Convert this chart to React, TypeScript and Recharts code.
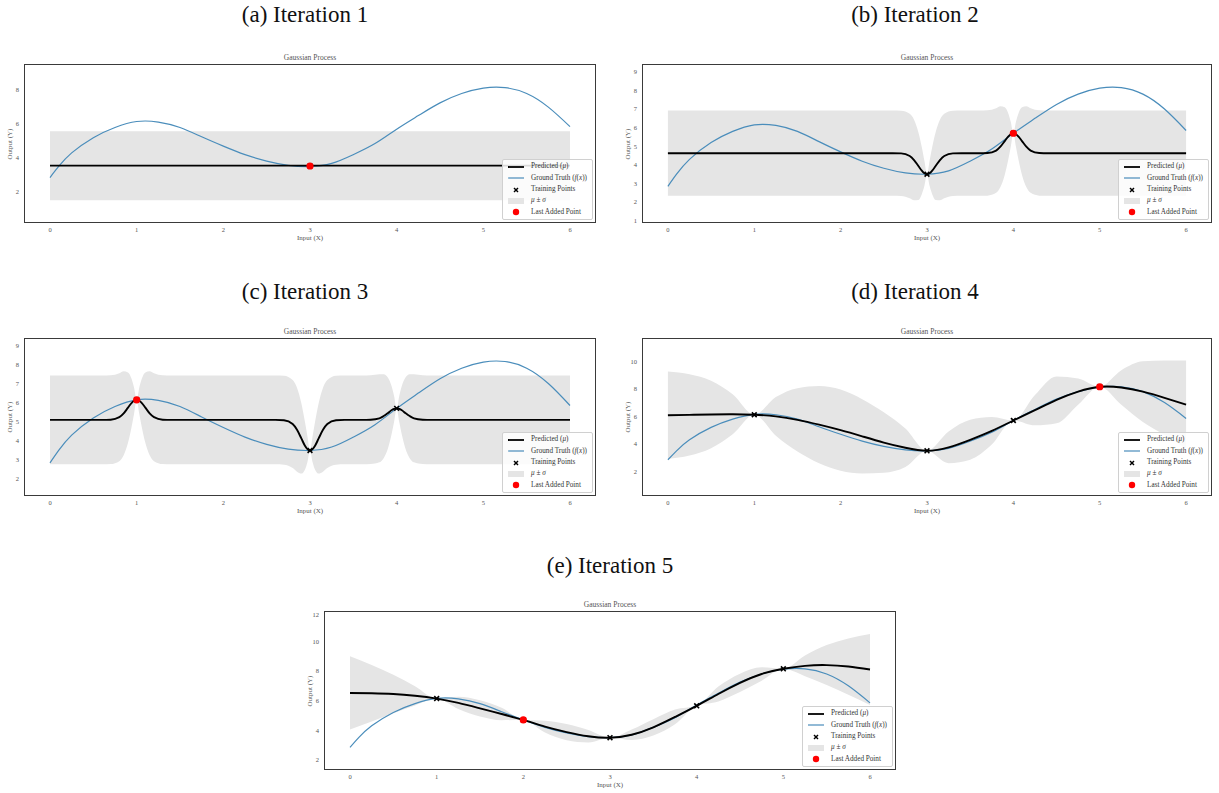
import React from 'react'
import { ComposedChart, Area, Line, Scatter, XAxis, YAxis } from 'recharts'

// ground truth f(x), shared by every panel
const GT_X = [0, 0.1, 0.25, 0.5, 0.75, 1, 1.25, 1.5, 1.75, 2, 2.25, 2.5, 2.75, 3, 3.25, 3.5, 3.75, 4, 4.25, 4.5, 4.75, 5, 5.25, 5.5, 5.75, 6]
const GT_Y = [2.85, 3.5, 4.3, 5.2, 5.8, 6.15, 6.12, 5.8, 5.25, 4.7, 4.2, 3.82, 3.57, 3.5, 3.68, 4.2, 4.85, 5.7, 6.5, 7.25, 7.8, 8.12, 8.15, 7.8, 7.0, 5.85]

const X_TICKS = [0, 1, 2, 3, 4, 5, 6]

// (a) iteration 1
const A_X = [0, 6]
const A_MU = [3.55, 3.55]
const A_LO = [1.51, 1.51]
const A_HI = [5.58, 5.58]
const A_TRAIN_X = [3]
const A_TRAIN_Y = [3.53]
const A_LAST = [3, 3.53]
const A_YTICKS = [2, 4, 6, 8]

// (b) iteration 2
const B_X = [0, 2.6, 2.7, 2.8, 2.85, 2.9, 2.94, 2.97, 3, 3.03, 3.06, 3.1, 3.15, 3.2, 3.3, 3.4, 3.6, 3.7, 3.8, 3.85, 3.9, 3.94, 3.97, 4, 4.03, 4.06, 4.1, 4.15, 4.2, 4.3, 4.4, 6]
const B_MU = [4.63, 4.63, 4.62, 4.48, 4.26, 3.94, 3.69, 3.55, 3.5, 3.55, 3.69, 3.94, 4.26, 4.48, 4.62, 4.63, 4.63, 4.64, 4.77, 4.98, 5.28, 5.52, 5.65, 5.7, 5.65, 5.52, 5.28, 4.98, 4.77, 4.64, 4.63, 4.63]
const B_HI = [6.92, 6.92, 6.91, 6.75, 6.43, 5.76, 4.95, 4.22, 3.5, 4.22, 4.95, 5.76, 6.43, 6.75, 6.91, 6.92, 6.92, 6.93, 7.04, 7.15, 7.1, 6.78, 6.32, 5.7, 6.32, 6.78, 7.1, 7.15, 7.04, 6.93, 6.92, 6.92]
const B_LO = [2.34, 2.34, 2.33, 2.21, 2.1, 2.12, 2.43, 2.88, 3.5, 2.88, 2.43, 2.12, 2.1, 2.21, 2.33, 2.34, 2.34, 2.35, 2.5, 2.81, 3.46, 4.26, 4.98, 5.7, 4.98, 4.26, 3.46, 2.81, 2.5, 2.35, 2.34, 2.34]
const B_TRAIN_X = [3, 4]
const B_TRAIN_Y = [3.5, 5.7]
const B_LAST = [4, 5.7]
const B_YTICKS = [1, 2, 3, 4, 5, 6, 7, 8, 9]

// (c) iteration 3
const C_X = [0, 0.6, 0.7, 0.8, 0.85, 0.9, 0.94, 0.97, 1, 1.03, 1.06, 1.1, 1.15, 1.2, 1.3, 1.4, 2.6, 2.7, 2.8, 2.85, 2.9, 2.94, 2.97, 3, 3.03, 3.06, 3.1, 3.15, 3.2, 3.3, 3.4, 3.6, 3.7, 3.8, 3.85, 3.9, 3.94, 3.97, 4, 4.03, 4.06, 4.1, 4.15, 4.2, 4.3, 4.4, 6]
const C_MU = [5.1,
  5.1, 5.11, 5.24, 5.44, 5.74, 5.98, 6.1, 6.15, 6.1, 5.98, 5.74, 5.44, 5.24, 5.11, 5.1,
  5.1, 5.08, 4.88, 4.58, 4.13, 3.76, 3.57, 3.5, 3.57, 3.76, 4.13, 4.58, 4.88, 5.08, 5.1,
  5.1, 5.11, 5.18, 5.3, 5.46, 5.6, 5.67, 5.7, 5.67, 5.6, 5.46, 5.3, 5.18, 5.11, 5.1,
  5.1]
const C_HI = [7.42,
  7.42, 7.43, 7.54, 7.64, 7.58, 7.26, 6.78, 6.15, 6.78, 7.26, 7.58, 7.64, 7.54, 7.43, 7.42,
  7.42, 7.4, 7.18, 6.78, 5.97, 5.04, 4.25, 3.5, 4.25, 5.04, 5.97, 6.78, 7.18, 7.4, 7.42,
  7.42, 7.43, 7.48, 7.49, 7.3, 6.88, 6.35, 5.7, 6.35, 6.88, 7.3, 7.49, 7.48, 7.43, 7.42,
  7.42]
const C_LO = [2.78,
  2.78, 2.79, 2.94, 3.25, 3.9, 4.7, 5.42, 6.15, 5.42, 4.7, 3.9, 3.25, 2.94, 2.79, 2.78,
  2.78, 2.76, 2.58, 2.39, 2.29, 2.48, 2.89, 3.5, 2.89, 2.48, 2.29, 2.39, 2.58, 2.76, 2.78,
  2.78, 2.79, 2.88, 3.1, 3.62, 4.32, 4.99, 5.7, 4.99, 4.32, 3.62, 3.1, 2.88, 2.79, 2.78,
  2.78]
const C_TRAIN_X = [1, 3, 4]
const C_TRAIN_Y = [6.15, 3.5, 5.7]
const C_LAST = [1, 6.15]
const C_YTICKS = [2, 3, 4, 5, 6, 7, 8, 9]

// (d) iteration 4
const D_X = [0, 0.25, 0.5, 0.75, 1, 1.25, 1.5, 1.75, 2, 2.25, 2.5, 2.75, 3, 3.25, 3.5, 3.75, 4, 4.25, 4.5, 4.75, 5, 5.25, 5.5, 5.75, 6]
const D_MU = [6.08, 6.11, 6.14, 6.15, 6.12, 6.0, 5.75, 5.4, 5.0, 4.55, 4.1, 3.72, 3.5, 3.75, 4.3, 4.95, 5.7, 6.45, 7.2, 7.8, 8.15, 8.1, 7.8, 7.35, 6.85]
const D_HI = [9.25, 9.06, 8.59, 7.6, 6.12, 7.4, 8.05, 8.2, 7.95, 7.25, 6.3, 5.12, 3.5, 4.9, 5.75, 5.95, 5.7, 7.55, 8.9, 8.75, 8.15, 9.35, 10.0, 10.05, 10.05]
const D_LO = [2.91, 3.16, 3.69, 4.7, 6.12, 4.6, 3.45, 2.6, 2.05, 1.85, 1.9, 2.32, 3.5, 2.6, 2.85, 3.95, 5.7, 5.35, 5.5, 6.85, 8.15, 6.85, 5.6, 4.65, 3.65]
const D_TRAIN_X = [1, 3, 4, 5]
const D_TRAIN_Y = [6.12, 3.5, 5.7, 8.15]
const D_LAST = [5, 8.15]
const D_YTICKS = [2, 4, 6, 8, 10]

// (e) iteration 5
const E_X = [0, 0.25, 0.5, 0.75, 1, 1.25, 1.5, 1.75, 2, 2.25, 2.5, 2.75, 3, 3.25, 3.5, 3.75, 4, 4.25, 4.5, 4.75, 5, 5.25, 5.5, 5.75, 6]
const E_MU = [6.52, 6.5, 6.45, 6.33, 6.14, 5.85, 5.48, 5.1, 4.7, 4.25, 3.88, 3.6, 3.5, 3.7, 4.2, 4.9, 5.65, 6.45, 7.2, 7.8, 8.15, 8.35, 8.4, 8.3, 8.1]
const E_HI = [8.99, 8.4, 7.75, 6.98, 6.14, 6.27, 6.03, 5.52, 4.7, 4.65, 4.43, 4.02, 3.5, 4.05, 4.75, 5.4, 5.65, 6.95, 7.82, 8.25, 8.15, 9.05, 9.75, 10.2, 10.5]
const E_LO = [4.05, 4.6, 5.15, 5.68, 6.14, 5.43, 4.93, 4.68, 4.7, 3.85, 3.33, 3.18, 3.5, 3.35, 3.65, 4.4, 5.65, 5.95, 6.58, 7.35, 8.15, 7.65, 7.05, 6.4, 5.7]
const E_TRAIN_X = [1, 2, 3, 4, 5]
const E_TRAIN_Y = [6.14, 4.7, 3.5, 5.65, 8.15]
const E_LAST = [2, 4.7]
const E_YTICKS = [2, 4, 6, 8, 10, 12]

const SERIF = '"Liberation Serif", "DejaVu Serif", serif'
const GT_COLOR = '#4a8dbb'
const BAND_COLOR = '#e5e5e5'
const LABEL_COLOR = '#555'

const rows = (xs: number[], mu: number[], lo: number[], hi: number[]) =>
  xs.map((x, i) => ({ x, mu: mu[i], band: [lo[i], hi[i]] }))
const pts = (xs: number[], ys: number[]) => xs.map((x, i) => ({ x, y: ys[i] }))

const gtRows = GT_X.map((x, i) => ({ x, gt: GT_Y[i] }))

const XMark = (props: any) => {
  const { cx, cy } = props
  const r = 2.4
  return (
    <g>
      <line x1={cx - r} y1={cy - r} x2={cx + r} y2={cy + r} stroke="#000" strokeWidth={1.6} />
      <line x1={cx - r} y1={cy + r} x2={cx + r} y2={cy - r} stroke="#000" strokeWidth={1.6} />
    </g>
  )
}

const RedDot = (props: any) => <circle cx={props.cx} cy={props.cy} r={3.6} fill="#ff0000" />

const LegendBox = () => {
  const item = (icon: React.ReactNode, label: React.ReactNode) => (
    <div style={{ display: 'flex', alignItems: 'center', height: 11.4 }}>
      <svg width={22} height={10} style={{ flex: 'none' }}>{icon}</svg>
      <span style={{ marginLeft: 4, whiteSpace: 'nowrap' }}>{label}</span>
    </div>
  )
  return (
    <div style={{
      position: 'absolute', right: 2, bottom: 2, padding: '1px 5px 1px 2px',
      background: 'rgba(255,255,255,0.85)', border: '1px solid #d0d0d0', borderRadius: 2,
      fontFamily: SERIF, fontSize: 7.2, color: '#333', lineHeight: 1,
    }}>
      {item(<line x1={3} y1={5} x2={19} y2={5} stroke="#000" strokeWidth={1.8} />, <>Predicted (<i>μ</i>)</>)}
      {item(<line x1={3} y1={5} x2={19} y2={5} stroke={GT_COLOR} strokeWidth={1.2} />, <>Ground Truth (<i>f</i>(<i>x</i>))</>)}
      {item(<g><line x1={9} y1={3} x2={13} y2={7} stroke="#000" strokeWidth={1.5} /><line x1={9} y1={7} x2={13} y2={3} stroke="#000" strokeWidth={1.5} /></g>, 'Training Points')}
      {item(<rect x={3} y={2} width={16} height={6} fill={BAND_COLOR} />, <><i>μ</i> ± <i>σ</i></>)}
      {item(<circle cx={11} cy={5} r={3.2} fill="#ff0000" />, 'Last Added Point')}
    </div>
  )
}

type PanelProps = {
  caption: string
  captionX: number
  captionY: number
  left: number
  top: number
  width: number
  height: number
  yDomain: [number, number]
  yTicks: number[]
  data: any[]
  train: any[]
  last: any[]
  smooth?: boolean
}

const AXIS_W = 30
const AXIS_H = 14

const Panel = (p: PanelProps) => (
  <>
    <div style={{
      position: 'absolute', left: p.captionX - 150, top: p.captionY - 14, width: 300,
      textAlign: 'center', fontFamily: SERIF, fontSize: 23, color: '#111', lineHeight: '28px',
    }}>{p.caption}</div>
    <div style={{
      position: 'absolute', left: p.left, top: p.top - 11, width: p.width, textAlign: 'center',
      fontFamily: SERIF, fontSize: 7.5, color: LABEL_COLOR, lineHeight: '9px',
    }}>Gaussian Process</div>
    <div style={{ position: 'absolute', left: p.left - AXIS_W, top: p.top }}>
      <ComposedChart width={p.width + AXIS_W} height={p.height + AXIS_H} margin={{ top: 0, right: 0, bottom: 0, left: 0 }}>
        <XAxis
          type="number" dataKey="x" domain={[-0.3, 6.3]} ticks={X_TICKS} allowDataOverflow
          height={AXIS_H} axisLine={false} tickLine={false} tickSize={2} tickMargin={2}
          tick={{ fontSize: 6.5, fill: LABEL_COLOR, fontFamily: SERIF }}
        />
        <YAxis
          type="number" domain={p.yDomain} ticks={p.yTicks} allowDataOverflow
          width={AXIS_W} axisLine={false} tickLine={false} tickSize={2} tickMargin={3}
          tick={{ fontSize: 6.5, fill: LABEL_COLOR, fontFamily: SERIF }}
        />
        <Area data={p.data} dataKey="band" type="monotone" stroke="none" fill={BAND_COLOR} fillOpacity={1} isAnimationActive={false} />
        <Line data={gtRows} dataKey="gt" type="natural" stroke={GT_COLOR} strokeWidth={1.2} dot={false} isAnimationActive={false} />
        <Line data={p.data} dataKey="mu" type={p.smooth ? 'natural' : 'monotone'} stroke="#000" strokeWidth={1.9} dot={false} isAnimationActive={false} />
        <Scatter data={p.train} dataKey="y" shape={<XMark />} isAnimationActive={false} />
        <Scatter data={p.last} dataKey="y" shape={<RedDot />} isAnimationActive={false} />
      </ComposedChart>
    </div>
    <div style={{
      position: 'absolute', left: p.left, top: p.top, width: p.width, height: p.height,
      border: '1.5px solid #3a3a3a', boxSizing: 'border-box', pointerEvents: 'none',
    }}>
      <LegendBox />
    </div>
    <div style={{
      position: 'absolute', left: p.left, top: p.top + p.height + 11, width: p.width, textAlign: 'center',
      fontFamily: SERIF, fontSize: 7, color: LABEL_COLOR, lineHeight: '9px',
    }}>Input (X)</div>
    <div style={{
      position: 'absolute', left: p.left - 14 - 40, top: p.top + p.height / 2 - 5, width: 80, height: 10,
      textAlign: 'center', fontFamily: SERIF, fontSize: 7, color: LABEL_COLOR, lineHeight: '10px',
      transform: 'rotate(-90deg)',
    }}>Output (Y)</div>
  </>
)

export default function App() {
  return (
    <div style={{ position: 'absolute', left: 0, top: 0, width: 1219, height: 793, background: '#fff', overflow: 'hidden' }}>
      <Panel caption="(a) Iteration 1" captionX={305} captionY={15} left={24} top={64} width={572} height={159}
        yDomain={[0.17, 9.54]} yTicks={A_YTICKS} data={rows(A_X, A_MU, A_LO, A_HI)}
        train={pts(A_TRAIN_X, A_TRAIN_Y)} last={pts([A_LAST[0]], [A_LAST[1]])} />
      <Panel caption="(b) Iteration 2" captionX={915} captionY={15} left={642} top={64} width={570} height={159}
        yDomain={[0.88, 9.42]} yTicks={B_YTICKS} data={rows(B_X, B_MU, B_LO, B_HI)}
        train={pts(B_TRAIN_X, B_TRAIN_Y)} last={pts([B_LAST[0]], [B_LAST[1]])} />
      <Panel caption="(c) Iteration 3" captionX={305} captionY={292} left={24} top={338} width={572} height={158}
        yDomain={[1.12, 9.38]} yTicks={C_YTICKS} data={rows(C_X, C_MU, C_LO, C_HI)}
        train={pts(C_TRAIN_X, C_TRAIN_Y)} last={pts([C_LAST[0]], [C_LAST[1]])} />
      <Panel caption="(d) Iteration 4" captionX={915} captionY={292} left={642} top={338} width={570} height={158}
        yDomain={[0.22, 11.69]} yTicks={D_YTICKS} data={rows(D_X, D_MU, D_LO, D_HI)} smooth
        train={pts(D_TRAIN_X, D_TRAIN_Y)} last={pts([D_LAST[0]], [D_LAST[1]])} />
      <Panel caption="(e) Iteration 5" captionX={610} captionY={566} left={324} top={611} width={572} height={159}
        yDomain={[1.32, 12.05]} yTicks={E_YTICKS} data={rows(E_X, E_MU, E_LO, E_HI)} smooth
        train={pts(E_TRAIN_X, E_TRAIN_Y)} last={pts([E_LAST[0]], [E_LAST[1]])} />
    </div>
  )
}
